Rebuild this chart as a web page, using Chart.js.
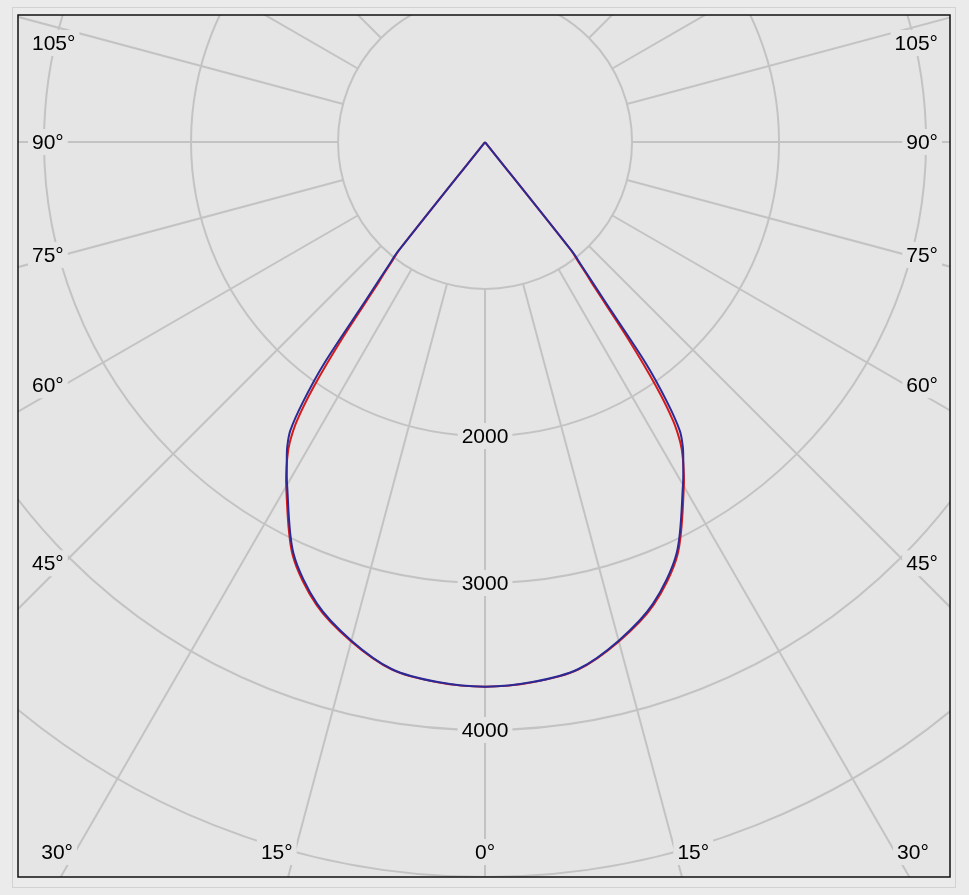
<!DOCTYPE html>
<html>
<head>
<meta charset="utf-8">
<script src="https://cdn.jsdelivr.net/npm/chart.js@4.4.1/dist/chart.umd.min.js"></script>
<style>
  html, body { margin: 0; padding: 0; background: #ebebeb; }
  canvas { display: block; }
</style>
</head>
<body>
<canvas id="polar" width="969" height="895"></canvas>
<script>
// gamma angles (deg from nadir) and luminous intensity (cd), both halves mirrored
const gamma = [0, 5, 10, 15, 20, 25, 30, 32, 33, 34, 35, 36, 37, 37.5, 38, 38.5, 39];
const planeA = [3705, 3690, 3645, 3518, 3352, 3098, 2705, 2540, 2440, 2290, 2030, 1660, 1240, 1130, 1020, 930, 0];
const planeB = [3705, 3688, 3642, 3512, 3342, 3085, 2693, 2545, 2470, 2370, 2160, 1860, 1340, 1190, 1060, 960, 0];

// grid
const rings = [1000, 2000, 3000, 4000, 5000];
const ringLabels = [2000, 3000, 4000];
const spokes = [0, 15, 30, 45, 60, 75, 90, 105, 120, 135, 150, 165, 180];
const angleLabels = [0, 15, 30, 45, 60, 75, 90, 105];

const PANEL = '#e5e5e5';
const GRID = '#c3c3c3';
const FONT = '21px "Liberation Sans", Arial, sans-serif';

function toPoints(vals) {
  const pts = [];
  for (let i = gamma.length - 1; i > 0; i--) {
    const g = gamma[i] * Math.PI / 180;
    pts.push({ x: -vals[i] * Math.sin(g), y: -vals[i] * Math.cos(g) });
  }
  for (let i = 0; i < gamma.length; i++) {
    const g = gamma[i] * Math.PI / 180;
    pts.push({ x: vals[i] * Math.sin(g), y: -vals[i] * Math.cos(g) });
  }
  return pts;
}

function label(ctx, text, x, y, align) {
  const w = ctx.measureText(text).width;
  let left = x;
  if (align === 'center') left = x - w / 2;
  if (align === 'right') left = x - w;
  ctx.fillStyle = PANEL;
  ctx.fillRect(left - 4, y - 13, w + 8, 26);
  ctx.fillStyle = '#000';
  ctx.textAlign = 'left';
  ctx.fillText(text, left, y + 1);
}

const polarGrid = {
  id: 'polarGrid',
  beforeDraw(chart) {
    const { ctx, chartArea: a } = chart;
    ctx.save();
    ctx.fillStyle = '#ebebeb';
    ctx.fillRect(0, 0, chart.width, chart.height);
    ctx.strokeStyle = '#d2d2d2';
    ctx.lineWidth = 1;
    ctx.strokeRect(12.5, 7.5, 943, 880);
    ctx.fillStyle = PANEL;
    ctx.fillRect(a.left, a.top, a.width, a.height);
    ctx.restore();
  },
  beforeDatasetsDraw(chart) {
    const { ctx, chartArea: a, scales: { x, y } } = chart;
    const cx = x.getPixelForValue(0), cy = y.getPixelForValue(0);
    const rpx = v => x.getPixelForValue(v) - cx;
    ctx.save();
    ctx.beginPath();
    ctx.rect(a.left, a.top, a.width, a.height);
    ctx.clip();
    ctx.strokeStyle = GRID;
    ctx.lineWidth = 2;
    rings.forEach(v => {
      ctx.beginPath();
      ctx.arc(cx, cy, rpx(v), 0, Math.PI * 2);
      ctx.stroke();
    });
    const r0 = rpx(rings[0]), r1 = rpx(9000);
    spokes.forEach(g => {
      [-1, 1].forEach(s => {
        const t = g * Math.PI / 180;
        const dx = s * Math.sin(t), dy = Math.cos(t);
        ctx.beginPath();
        ctx.moveTo(cx + dx * r0, cy + dy * r0);
        ctx.lineTo(cx + dx * r1, cy + dy * r1);
        ctx.stroke();
      });
    });

    ctx.font = FONT;
    ctx.textBaseline = 'middle';
    ringLabels.forEach(v => label(ctx, String(v), cx, y.getPixelForValue(-v), 'center'));

    angleLabels.forEach(g => {
      const t = g * Math.PI / 180;
      const text = g + '°';
      const w = ctx.measureText(text).width;
      if (g < 45) {
        const ly = a.bottom - 25;
        const off = Math.tan(t) * (ly - cy);
        if (g === 0) { label(ctx, text, cx, ly, 'center'); return; }
        label(ctx, text, cx - off - 18, ly, 'center');
        label(ctx, text, cx + off + 18, ly, 'center');
      } else {
        const d = cx - (a.left + 14 + w);
        let ly = cy + d / Math.tan(t);
        ly = Math.max(ly, a.top + 28);
        label(ctx, text, a.left + 14, ly, 'left');
        label(ctx, text, a.right - 12, ly, 'right');
      }
    });
    ctx.restore();
  },
  afterDraw(chart) {
    const { ctx, chartArea: a } = chart;
    ctx.save();
    ctx.strokeStyle = '#111';
    ctx.lineWidth = 1.5;
    ctx.strokeRect(a.left, a.top, a.width, a.height);
    ctx.restore();
  }
};

new Chart(document.getElementById('polar'), {
  type: 'scatter',
  data: {
    datasets: [
      {
        label: 'C0-C180',
        data: toPoints(planeA),
        showLine: true,
        borderColor: '#d61a1a',
        borderWidth: 2,
        pointRadius: 0,
        tension: 0.3,
        clip: 0,
        order: 2
      },
      {
        label: 'C90-C270',
        data: toPoints(planeB),
        showLine: true,
        borderColor: '#2b2b98',
        borderWidth: 2,
        pointRadius: 0,
        tension: 0.3,
        clip: 0,
        order: 1
      }
    ]
  },
  options: {
    responsive: false,
    animation: false,
    devicePixelRatio: 1,
    layout: { padding: { left: 18, top: 15, right: 19, bottom: 18 } },
    plugins: { legend: { display: false }, tooltip: { enabled: false } },
    scales: {
      x: { type: 'linear', display: false, min: -3177, max: 3163 },
      y: { type: 'linear', display: false, min: -5000, max: 864 }
    }
  },
  plugins: [polarGrid]
});
</script>
</body>
</html>
